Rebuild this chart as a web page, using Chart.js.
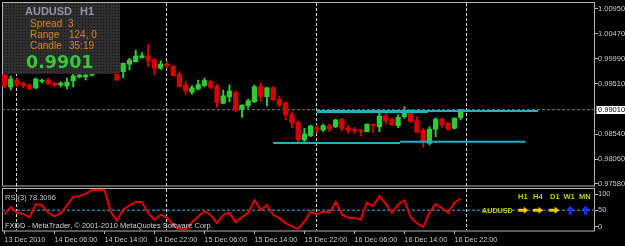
<!DOCTYPE html>
<html>
<head>
<meta charset="utf-8">
<script src="https://cdn.jsdelivr.net/npm/chart.js@4.4.1/dist/chart.umd.min.js"></script>
<style>
  html, body { margin: 0; padding: 0; background: #000; }
  canvas { display: block; }
</style>
</head>
<body>
<canvas id="chart" width="625" height="246"></canvas>
<script>
// AUDUSD H1 bars, 13 Dec 22:00 .. 16 Dec 23:00 (index = bar number)
var opens = [0.99679, 0.99448, 0.99583, 0.99525, 0.99487, 0.99429, 0.99554, 0.99583, 0.99525, 0.99487,
  0.99467, 0.99564, 0.99641, 0.99641, 0.99679, 0.99708, 0.99814, 0.99891, 0.99698, 0.99743,
  0.99885, 0.99935, 1.00012, 1.00045, 0.99968, 0.99808, 0.99891, 0.99852, 0.99698, 0.99487,
  0.99346, 0.99409, 0.99477, 0.99550, 0.99467, 0.99134, 0.99261, 0.99338, 0.99019, 0.99088,
  0.99165, 0.99467, 0.99261, 0.99435, 0.99211, 0.99146, 0.98922, 0.98768, 0.98427, 0.98510,
  0.98664, 0.98620, 0.98703, 0.98683, 0.98826, 0.98664, 0.98633, 0.98620, 0.98587, 0.98730,
  0.98683, 0.98889, 0.98826, 0.98703, 0.98876, 0.98972, 0.98799, 0.98620, 0.98364, 0.98633,
  0.98826, 0.98749, 0.98653, 0.98857];
var highs = [0.99718, 0.99660, 0.99621, 0.99544, 0.99506, 0.99621, 0.99602, 0.99621, 0.99535, 0.99544,
  0.99621, 0.99698, 0.99698, 0.99718, 0.99718, 0.99852, 0.99929, 0.99910, 0.99708, 0.99910,
  1.00001, 1.00160, 1.00108, 1.00276, 1.00001, 0.99949, 0.99935, 0.99852, 0.99743, 0.99550,
  0.99473, 0.99583, 0.99621, 0.99583, 0.99500, 0.99390, 0.99487, 0.99377, 0.99101, 0.99217,
  0.99487, 0.99531, 0.99435, 0.99454, 0.99275, 0.99165, 0.98972, 0.98793, 0.98653, 0.98716,
  0.98716, 0.98735, 0.98735, 0.98826, 0.98845, 0.98716, 0.98672, 0.98633, 0.98735, 0.98730,
  0.98953, 0.98942, 0.98845, 0.98915, 0.99069, 0.99019, 0.98876, 0.98653, 0.98683, 0.98857,
  0.98857, 0.98768, 0.98857, 0.99019];
var lows = [0.99429, 0.99390, 0.99448, 0.99429, 0.99400, 0.99419, 0.99525, 0.99496, 0.99448, 0.99448,
  0.99409, 0.99448, 0.99621, 0.99583, 0.99660, 0.99708, 0.99795, 0.99718, 0.99573, 0.99627,
  0.99775, 0.99924, 1.00001, 0.99839, 0.99679, 0.99789, 0.99808, 0.99660, 0.99448, 0.99307,
  0.99307, 0.99390, 0.99448, 0.99409, 0.99057, 0.99121, 0.99165, 0.98972, 0.98864, 0.99038,
  0.99146, 0.99165, 0.99082, 0.99188, 0.99069, 0.98813, 0.98664, 0.98375, 0.98395, 0.98491,
  0.98556, 0.98587, 0.98587, 0.98664, 0.98606, 0.98556, 0.98556, 0.98510, 0.98587, 0.98568,
  0.98587, 0.98735, 0.98710, 0.98664, 0.98845, 0.98768, 0.98568, 0.98287, 0.98331, 0.98491,
  0.98672, 0.98606, 0.98639, 0.98813];
var closes = [0.99467, 0.99602, 0.99487, 0.99467, 0.99409, 0.99602, 0.99573, 0.99506, 0.99487, 0.99525,
  0.99544, 0.99660, 0.99679, 0.99679, 0.99698, 0.99814, 0.99891, 0.99737, 0.99583, 0.99904,
  0.99968, 1.00045, 1.00051, 0.99949, 0.99808, 0.99891, 0.99852, 0.99666, 0.99454, 0.99371,
  0.99435, 0.99496, 0.99573, 0.99442, 0.99146, 0.99280, 0.99371, 0.99005, 0.99101, 0.99184,
  0.99454, 0.99261, 0.99435, 0.99198, 0.99101, 0.98909, 0.98761, 0.98427, 0.98543, 0.98697,
  0.98633, 0.98703, 0.98639, 0.98813, 0.98653, 0.98606, 0.98606, 0.98595, 0.98735, 0.98710,
  0.98889, 0.98799, 0.98716, 0.98864, 0.98953, 0.98780, 0.98576, 0.98395, 0.98633, 0.98826,
  0.98716, 0.98639, 0.98845, 0.99010];

// RSI(3) per bar
var rsi = [40, 58, 44, 41, 33, 65, 62, 44, 35, 43,
  62, 82, 84, 90, 99, 99, 99, 47, 25, 52,
  62, 70, 70, 43, 27, 39, 33, 13, 4, 4,
  21, 35, 48, 38, 19, 39, 44, 21, 33, 44,
  74, 51, 62, 39, 31, 19, 11, 5, 23, 47,
  40, 47, 44, 70, 40, 32, 32, 27, 68, 60,
  84, 66, 44, 64, 74, 33, 19, 10, 44, 65,
  55, 44, 68, 78.3096];

var timeLabels = ['13 Dec 2010', '14 Dec 06:00', '14 Dec 14:00', '14 Dec 22:00', '15 Dec 06:00',
  '15 Dec 14:00', '15 Dec 22:00', '16 Dec 06:00', '16 Dec 14:00', '16 Dec 22:00'];
var timeLabelBars = [0, 8, 16, 24, 32, 40, 48, 56, 64, 72];
var daySeparators = [2, 26, 50, 74];

var priceTicks = [1.0095, 1.0047, 0.9999, 0.9951, 0.9854, 0.9806, 0.9758];
var rsiTickLabels = ['100', '50', '0'];
var rsiTickAt = [89, 50, 10];   // MT4 draws the 100/0 labels inset from the edges
var bid = 0.9901;

// hand drawn horizontal lines: [bar, price] pairs
var upperLineA = [[50, 0.98986], [85.4, 0.98986]];
var upperLineB = [[50, 0.98961], [67.8, 0.98961]];
var lowerLineA = [[43, 0.98370], [63.3, 0.98370]];
var lowerLineB = [[63.3, 0.98395], [83.4, 0.98395]];

var infoRows = [['Spread', '3'], ['Range', '124, 0'], ['Candle', '35:19']];
var tfNames = ['H1', 'H4', 'D1', 'W1', 'MN'];
var tfSignals = ['right', 'right', 'right', 'up', 'up'];

var FONT = '"Liberation Sans", Arial, sans-serif';
var GREEN = '#2fcb35', RED = '#d80000';

var candleColors = opens.map(function(o, i) { return closes[i] >= o ? GREEN : RED; });

function pts(arr) { return arr.map(function(p) { return {x: p[0], y: p[1]}; }); }

function noPad(s) { s.paddingTop = 0; s.paddingBottom = 0; s.paddingLeft = 0; s.paddingRight = 0; }

var mtPlugin = {
  id: 'mt',
  beforeDatasetsDraw: function(chart) {
    var ctx = chart.ctx, xs = chart.scales.x, ys = chart.scales.y, yr = chart.scales.yr;
    ctx.save();
    ctx.strokeStyle = '#b4b4b4';
    ctx.lineWidth = 1;
    ctx.strokeRect(xs.left + 0.5, ys.top + 0.5, xs.width - 1, ys.bottom - ys.top - 1.5);
    ctx.strokeRect(xs.left + 0.5, yr.top + 1.5, xs.width - 1, yr.bottom - yr.top - 1.5);
    // period separators
    ctx.strokeStyle = '#d8d8d8';
    ctx.setLineDash([3, 2]);
    daySeparators.forEach(function(b) {
      var px = Math.round(xs.getPixelForValue(b - 0.15)) + 0.5;
      ctx.beginPath();
      ctx.moveTo(px, ys.top + 1); ctx.lineTo(px, ys.bottom - 1);
      ctx.moveTo(px, yr.top + 2); ctx.lineTo(px, yr.bottom - 1);
      ctx.stroke();
    });
    ctx.restore();
  },
  afterDatasetsDraw: function(chart) {
    var ctx = chart.ctx, yr = chart.scales.yr;
    ctx.save();
    // info panel
    var pc = document.createElement('canvas');
    pc.width = 3; pc.height = 3;
    var pctx = pc.getContext('2d');
    pctx.fillStyle = '#2f2f2f'; pctx.fillRect(0, 0, 3, 3);
    pctx.fillStyle = '#101010'; pctx.fillRect(1, 1, 1, 1);
    ctx.fillStyle = ctx.createPattern(pc, 'repeat');
    ctx.fillRect(3, 3, 117, 71);

    ctx.textBaseline = 'alphabetic';
    ctx.textAlign = 'left';
    ctx.fillStyle = '#8c98aa';
    ctx.font = 'bold 11px ' + FONT;
    ctx.fillText('AUDUSD', 25, 15);
    ctx.fillText('H1', 80, 15);
    ctx.fillStyle = '#e0821c';
    ctx.font = '10px ' + FONT;
    infoRows.forEach(function(r, i) {
      var by = 27.3 + i * 10.9;
      ctx.fillText(r[0], 30, by);
      ctx.fillText(r[1], i === 0 ? 68 : 69, by);
    });
    ctx.fillStyle = '#36c83a';
    ctx.font = 'bold 17.5px "DejaVu Sans", sans-serif';
    ctx.fillText(bid.toFixed(4), 26, 68.3);

    // indicator window texts
    ctx.font = '7.5px ' + FONT;
    ctx.fillStyle = '#c4c4c4';
    ctx.fillText('RSI(3) ' + rsi[rsi.length - 1].toFixed(4), 5, yr.top + 12.5);
    ctx.fillStyle = '#d4d4d4';
    ctx.fillText('FXDD - MetaTrader, \u00a9 2001-2010 MetaQuotes Software Corp.', 5, yr.top + 41);

    // trend panel
    ctx.fillStyle = '#c8c800';
    ctx.font = 'bold 7.2px ' + FONT;
    ctx.fillText('AUDUSD', 482, 212.7);
    var labelX = [518, 533, 550, 563.5, 579];
    var arrowX = [523.3, 538, 554.2, 570.3, 585.5];
    ctx.font = 'bold 7.5px ' + FONT;
    tfNames.forEach(function(n, i) {
      ctx.fillStyle = '#c8c800';
      ctx.fillText(n, labelX[i], 199.3);
      var cx = arrowX[i], cy = 210.3;
      ctx.beginPath();
      if (tfSignals[i] === 'right') {
        ctx.fillStyle = '#f2c800';
        ctx.moveTo(cx - 5, cy - 1.5); ctx.lineTo(cx + 0.5, cy - 1.5); ctx.lineTo(cx + 0.5, cy - 3.5);
        ctx.lineTo(cx + 5, cy); ctx.lineTo(cx + 0.5, cy + 3.5); ctx.lineTo(cx + 0.5, cy + 1.5);
        ctx.lineTo(cx - 5, cy + 1.5);
      } else {
        ctx.fillStyle = '#1a2cff';
        ctx.moveTo(cx - 1.5, cy + 4.5); ctx.lineTo(cx - 1.5, cy - 0.5); ctx.lineTo(cx - 4, cy - 0.5);
        ctx.lineTo(cx, cy - 4.5); ctx.lineTo(cx + 4, cy - 0.5); ctx.lineTo(cx + 1.5, cy - 0.5);
        ctx.lineTo(cx + 1.5, cy + 4.5);
      }
      ctx.closePath();
      ctx.fill();
    });
    ctx.restore();
  },
  afterDraw: function(chart) {
    var ctx = chart.ctx, ys = chart.scales.y;
    var py = ys.getPixelForValue(bid);
    ctx.save();
    ctx.fillStyle = '#ffffff';
    ctx.fillRect(596.5, Math.round(py) - 4, 29, 8);
    ctx.fillStyle = '#000000';
    ctx.font = '7.5px ' + FONT;
    ctx.textBaseline = 'middle';
    ctx.fillText(bid.toFixed(5), 598, py + 0.5);
    ctx.restore();
  }
};

var hLine = function(data, color, width, dash, axis, order) {
  return {type: 'line', data: data, borderColor: color, borderWidth: width, borderDash: dash || [],
    pointRadius: 0, tension: 0, yAxisID: axis, order: order};
};

var config = {
  type: 'bar',
  data: {
    datasets: [
      {type: 'bar', label: 'wicks', yAxisID: 'y', order: 6, grouped: false,
        data: lows.map(function(l, i) { return {x: i, y: [l, highs[i]]}; }),
        backgroundColor: candleColors, barThickness: 1.3, maxBarThickness: 1.3},
      {type: 'bar', label: 'bodies', yAxisID: 'y', order: 5, grouped: false,
        data: opens.map(function(o, i) { return {x: i, y: [o, closes[i]]}; }),
        backgroundColor: candleColors, barThickness: 4.6, maxBarThickness: 4.6, minBarLength: 1.2},
      hLine([{x: -0.4, y: bid}, {x: 94.5, y: bid}], '#6d8494', 1, [3, 2], 'y', 7),
      hLine(pts(upperLineA), '#1fb0c4', 2, null, 'y', 3),
      hLine(pts(upperLineB), '#1fb0c4', 1.5, null, 'y', 3),
      hLine(pts(lowerLineA), '#1fb0c4', 2, null, 'y', 3),
      hLine(pts(lowerLineB), '#1fb0c4', 2, null, 'y', 3),
      hLine([{x: -0.4, y: 50}, {x: 94.5, y: 50}], '#1e7d9c', 1.5, [3, 2], 'yr', 4),
      {type: 'line', label: 'RSI(3)', yAxisID: 'yr', order: 2,
        data: rsi.map(function(v, i) { return {x: i, y: v}; }),
        borderColor: '#e40000', borderWidth: 2, pointRadius: 0, tension: 0}
    ]
  },
  options: {
    responsive: false,
    animation: false,
    devicePixelRatio: 1,
    layout: {padding: {left: 2, top: 2, right: 0, bottom: 0}},
    plugins: {legend: {display: false}, tooltip: {enabled: false}},
    scales: {
      x: {
        type: 'linear', min: -0.4, max: 94.5, offset: false,
        grid: {offset: false, drawOnChartArea: false, tickLength: 3, color: '#b4b4b4'},
        border: {display: false},
        afterBuildTicks: function(s) { s.ticks = timeLabelBars.map(function(v) { return {value: v}; }); },
        afterFit: function(s) { s.height = 15; noPad(s); },
        ticks: {
          autoSkip: false, maxRotation: 0, minRotation: 0, align: 'start', padding: 2,
          color: '#c8c8c8', font: {family: FONT, size: 7.2},
          callback: function(v) { return timeLabels[timeLabelBars.indexOf(v)]; }
        }
      },
      y: {
        position: 'right', stack: 'win', stackWeight: 185, weight: 0,
        min: 0.975222, max: 1.010848,
        grid: {drawOnChartArea: false, tickLength: 3, color: '#b4b4b4'},
        border: {display: false},
        afterBuildTicks: function(s) { s.ticks = priceTicks.map(function(v) { return {value: v}; }); },
        afterFit: function(s) { s.width = 30; noPad(s); },
        ticks: {
          autoSkip: false, padding: 0, color: '#c8c8c8', font: {family: FONT, size: 7.5},
          callback: function(v) { return v.toFixed(5); }
        }
      },
      yr: {
        position: 'right', stack: 'win', stackWeight: 44, weight: 1,
        min: 0, max: 106,
        grid: {drawOnChartArea: false, tickLength: 3, color: '#b4b4b4'},
        border: {display: false},
        afterBuildTicks: function(s) { s.ticks = rsiTickAt.map(function(v) { return {value: v}; }); },
        afterFit: function(s) { s.width = 30; noPad(s); },
        ticks: {
          autoSkip: false, padding: 0, color: '#c8c8c8', font: {family: FONT, size: 7.5},
          callback: function(v, i) { return rsiTickLabels[i]; }
        }
      }
    }
  },
  plugins: [mtPlugin]
};

var chart = new Chart(document.getElementById('chart').getContext('2d'), config);
</script>
</body>
</html>
